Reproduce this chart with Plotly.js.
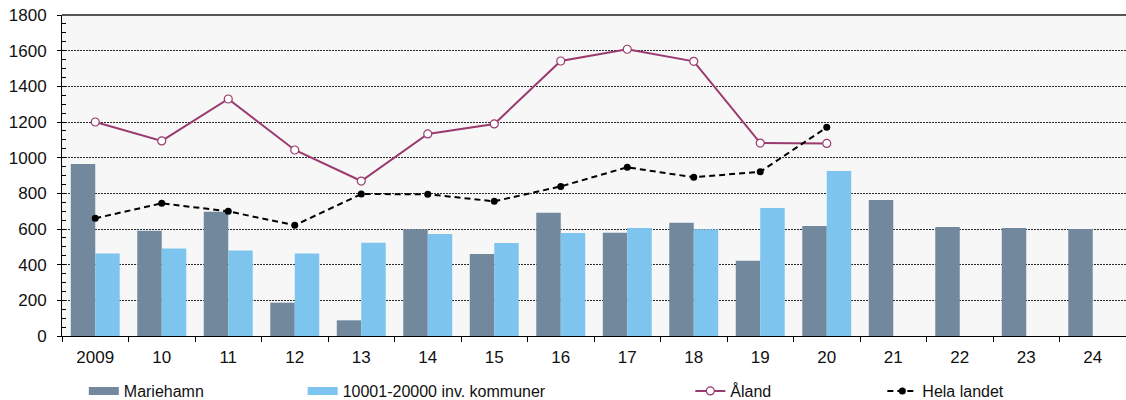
<!DOCTYPE html>
<html>
<head>
<meta charset="utf-8">
<script src="https://cdn.plot.ly/plotly-3.0.1.min.js"></script>
<style>html,body{margin:0;padding:0;background:#fff;}#chart{width:1126px;height:400px;}</style>
</head>
<body>
<div id="chart"></div>
<script>
const categories = ["2009","10","11","12","13","14","15","16","17","18","19","20","21","22","23","24"];
const mariehamn = [965, 590, 697, 187, 88, 598, 460, 691, 579, 635, 422, 617, 763, 611, 606, 600];
const kommuner = [462, 490, 479, 462, 523, 572, 522, 578, 606, 598, 718, 925, null, null, null, null];
const aland = [1200, 1094, 1329, 1043, 869, 1133, 1189, 1542, 1608, 1540, 1082, 1080, null, null, null, null];
const helaLandet = [660, 744, 699, 621, 796, 795, 755, 839, 946, 890, 921, 1170, null, null, null, null];
const yTicks = [0, 200, 400, 600, 800, 1000, 1200, 1400, 1600, 1800];

const cMarie = '#72889d';
const cKomm = '#7dc5ee';
const cAland = '#9a3a6e';

const traces = [
  {type:'bar', name:'Mariehamn', x:categories, y:mariehamn, marker:{color:cMarie}, showlegend:false, hoverinfo:'y'},
  {type:'bar', name:'10001-20000 inv. kommuner', x:categories, y:kommuner, marker:{color:cKomm}, showlegend:false, hoverinfo:'y'},
  {type:'scatter', mode:'lines+markers', name:'Åland', x:categories, y:aland,
   line:{color:cAland, width:2}, marker:{symbol:'circle', size:8, color:'#ffffff', line:{color:cAland, width:1.2}}, legend:'legend3'},
  {type:'scatter', mode:'lines+markers', name:'Hela landet', x:categories, y:helaLandet,
   line:{color:'#000000', width:2, dash:'6px,4px'}, marker:{symbol:'circle', size:7, color:'#000000'}, legend:'legend4'},
  // legend-only entries for the bar swatches
  {type:'scatter', mode:'lines', name:'Mariehamn', x:[null], y:[null], line:{color:cMarie, width:8}, legend:'legend', hoverinfo:'skip'},
  {type:'scatter', mode:'lines', name:'10001-20000 inv. kommuner', x:[null], y:[null], line:{color:cKomm, width:8}, legend:'legend2', hoverinfo:'skip'}
];

const legFont = {family:'"Liberation Sans", Arial, sans-serif', size:16, color:'#111'};
const legBase = {orientation:'h', yanchor:'middle', xanchor:'left', yref:'container', y:0.0225, bgcolor:'rgba(0,0,0,0)', font:legFont, borderwidth:0};

const layout = {
  width:1126, height:400,
  margin:{l:62, r:0, t:15, b:64, autoexpand:false},
  paper_bgcolor:'#ffffff',
  plot_bgcolor:'#f7f7f7',
  font:{family:'"Liberation Sans", Arial, sans-serif', size:16, color:'#111'},
  barmode:'group', bargap:0.264, bargroupgap:0,
  xaxis:{type:'category', range:[-0.5, 15.5], showline:true, linecolor:'#000', linewidth:1,
         ticks:'outside', tickson:'boundaries', ticklen:5, tickcolor:'#000', showgrid:false,
         tickfont:{size:17, color:'#111'}, ticklabelstandoff:6, fixedrange:true},
  yaxis:{range:[0,1800], tickvals:yTicks, ticktext:yTicks.map(String), showline:true, linecolor:'#000', linewidth:1,
         ticks:'outside', ticklen:4, tickcolor:'#000',
         showgrid:true, gridcolor:'#2a2a2a', griddash:'2px,1px', gridwidth:1, zeroline:false,
         minor:{dtick:50, tick0:0, ticks:'inside', ticklen:4, tickcolor:'#000', showgrid:false},
         tickfont:{size:17, color:'#111'}, ticklabelstandoff:7, fixedrange:true},
  shapes:[{type:'line', xref:'paper', yref:'paper', x0:0, x1:1, y0:1, y1:1, line:{color:'#555', width:2}, layer:'above'}],
  legend:Object.assign({}, legBase, {x:0.0205}),
  legend2:Object.assign({}, legBase, {x:0.2262}),
  legend3:Object.assign({}, legBase, {x:0.5905}),
  legend4:Object.assign({}, legBase, {x:0.771}),
  showlegend:true
};

Plotly.newPlot('chart', traces, layout, {displayModeBar:false, staticPlot:true});
</script>
</body>
</html>
